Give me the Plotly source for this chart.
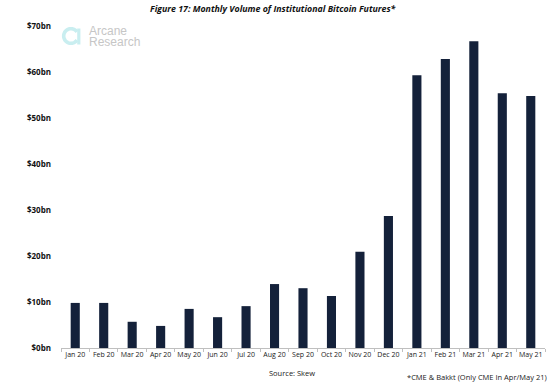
import math
import plotly.graph_objects as go

months = ["Jan 20", "Feb 20", "Mar 20", "Apr 20", "May 20", "Jun 20", "Jul 20", "Aug 20",
          "Sep 20", "Oct 20", "Nov 20", "Dec 20", "Jan 21", "Feb 21", "Mar 21", "Apr 21", "May 21"]
volume_bn = [9.8, 9.8, 5.7, 4.8, 8.5, 6.7, 9.1, 13.9, 13.0, 11.3, 20.9, 28.7, 59.3, 62.8, 66.7, 55.4, 54.8]
y_ticks = [0, 10, 20, 30, 40, 50, 60, 70]
y_tick_labels = ["$0bn", "$10bn", "$20bn", "$30bn", "$40bn", "$50bn", "$60bn", "$70bn"]

W, H = 553, 388
ML, MR, MT, MB = 61, 8, 26, 40

fig = go.Figure()
fig.add_trace(go.Bar(x=months, y=volume_bn, marker=dict(color="#14213a", line=dict(width=0)),
                     width=0.32))

fig.update_layout(
    width=W, height=H,
    margin=dict(l=ML, r=MR, t=MT, b=MB),
    paper_bgcolor="white", plot_bgcolor="white",
    showlegend=False,
    font=dict(family="Open Sans, sans-serif", color="#222"),
    xaxis=dict(showgrid=False, showline=True, linecolor="#bfbfbf", linewidth=1,
               ticks="outside", tickson="boundaries", ticklen=3, tickcolor="#bfbfbf",
               tickfont=dict(size=7, color="#1a1a1a"), tickangle=0),
    yaxis=dict(range=[0, 70], showgrid=False, zeroline=False, showline=False,
               tickvals=y_ticks, ticktext=y_tick_labels, ticks="",
               tickfont=dict(size=8, color="#111", weight="bold"), ticklabelstandoff=9),
)

# Title
fig.add_annotation(text="<b><i>Figure 17: Monthly Volume of Institutional Bitcoin Futures*</i></b>",
                   xref="paper", yref="paper", x=0.5, y=1, yshift=17, xshift=-30,
                   showarrow=False, font=dict(size=8.8, color="#111"), xanchor="center", yanchor="middle")

# Logo
def px_to_paper(px, py):
    return (px - ML) / (W - ML - MR), 1 - (py - MT) / (H - MT - MB)

cx, cy, r = 71.0, 36.0, 7.3
pts = []
for i in range(41):
    a = math.radians(35 + (325 - 35) * i / 40)
    px, py = cx + r * math.cos(a), cy - r * math.sin(a)
    qx, qy = px_to_paper(px, py)
    pts.append(f"{qx:.5f},{qy:.5f}")
fig.add_shape(type="path", xref="paper", yref="paper", path="M " + " L ".join(pts),
              line=dict(color="#c9eef0", width=3.6))
bx0, by0 = px_to_paper(78.8, 28.5)
bx1, by1 = px_to_paper(78.8, 44.5)
fig.add_shape(type="line", xref="paper", yref="paper", x0=bx0, y0=by0, x1=bx1, y1=by1,
              line=dict(color="#c9eef0", width=3.2))
tx, ty = px_to_paper(87, 31)
fig.add_annotation(text="Arcane", xref="paper", yref="paper", x=tx, y=ty,
                   showarrow=False, xanchor="left", yanchor="middle", align="left",
                   font=dict(size=12, color="#c6c6c6", family="Liberation Sans, Arial"))
tx, ty = px_to_paper(87, 41.5)
fig.add_annotation(text="Research", xref="paper", yref="paper", x=tx, y=ty,
                   showarrow=False, xanchor="left", yanchor="middle", align="left",
                   font=dict(size=12, color="#c6c6c6", family="Liberation Sans, Arial"))

# Footer
sx, sy = px_to_paper(292, 373)
fig.add_annotation(text="Source: Skew", xref="paper", yref="paper", x=sx, y=sy,
                   showarrow=False, xanchor="center", yanchor="middle",
                   font=dict(size=7.5, color="#222"))
nx, ny = px_to_paper(549, 377)
fig.add_annotation(text="*CME &amp; Bakkt (Only CME In Apr/May 21)", xref="paper", yref="paper", x=nx, y=ny,
                   showarrow=False, xanchor="right", yanchor="middle",
                   font=dict(size=7.5, color="#222"))

fig.write_html("out.html", config={"displayModeBar": False},
               post_script="document.body.style.margin='0';document.body.style.overflow='hidden';")
